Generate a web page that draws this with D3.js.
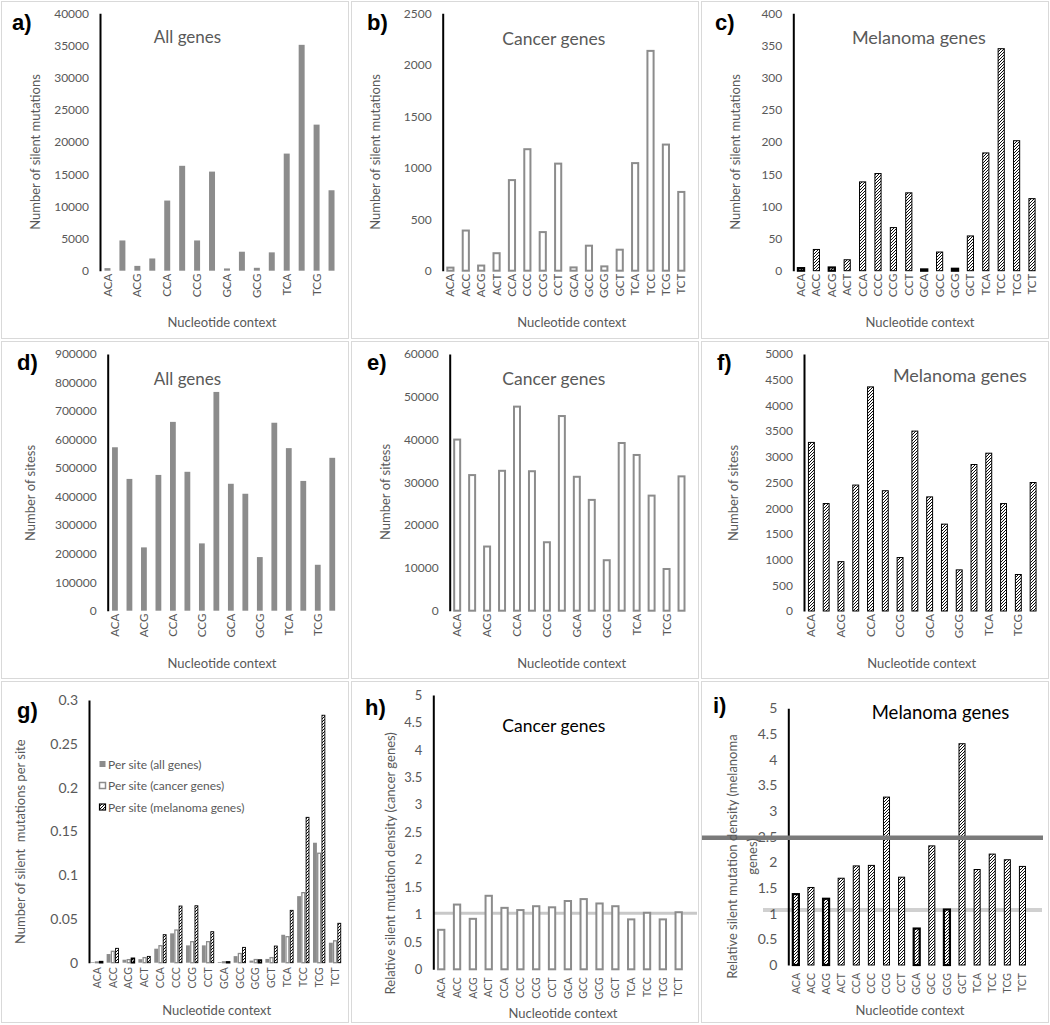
<!DOCTYPE html>
<html><head><meta charset="utf-8">
<script src="https://cdn.jsdelivr.net/npm/d3@7"></script>
<style>body{margin:0;background:#fff} svg{display:block} text{font-family:Lato,"Open Sans",sans-serif}</style>
</head><body><svg id="c" width="1050" height="1025"></svg>
<script>
// ---------------- DATA ----------------
const contexts = ["ACA","ACC","ACG","ACT","CCA","CCC","CCG","CCT","GCA","GCC","GCG","GCT","TCA","TCC","TCG","TCT"];

const silentAll      = [400,4700,750,1900,10900,16300,4700,15400,350,2950,450,2850,18200,35100,22700,12500];
const silentCancer   = [30,390,50,170,880,1180,375,1040,32,243,42,204,1045,2135,1225,765];
const silentMelanoma = [4,33,5,17,138,151,67,121,2,29,3,54,183,345,202,112];

const sitesAll      = [573000,462000,222000,476000,662000,487000,236000,767000,445000,410000,188000,659000,570000,455000,161000,536000];
const sitesCancer   = [40000,31700,15000,32700,47700,32600,16000,45500,31300,25900,11800,39200,36400,26900,9750,31400];
const sitesMelanoma = [3280,2090,960,2450,4360,2340,1040,3500,2220,1690,800,2850,3070,2090,710,2500];

const perSiteAll      = [0.0007,0.0099,0.0034,0.004,0.016,0.0335,0.0198,0.0198,0.0008,0.0075,0.0024,0.0043,0.0319,0.076,0.137,0.0228];
const perSiteCancer   = [0.0008,0.013,0.0035,0.0058,0.0194,0.0373,0.024,0.024,0.001,0.0105,0.0036,0.0058,0.0297,0.08,0.125,0.025];
const perSiteMelanoma = [0.0012,0.0164,0.005,0.0072,0.032,0.0647,0.065,0.0354,0.0009,0.0175,0.003,0.019,0.0598,0.166,0.2826,0.045];
const perSiteSeries   = ["Per site (all genes)","Per site (cancer genes)","Per site (melanoma genes)"];

const relCancer   = [0.72,1.18,0.92,1.34,1.12,1.08,1.15,1.13,1.245,1.28,1.2,1.15,0.91,1.03,0.91,1.04];
const relMelanoma = [1.38,1.51,1.29,1.69,1.93,1.94,3.27,1.71,0.71,2.32,1.08,4.31,1.86,2.16,2.05,1.92];
const refLineCancer   = [1.02];
const refLinesMelanoma = [1.07, 2.48];

const ticksA = ["0","5000","10000","15000","20000","25000","30000","35000","40000"];
const ticksB = ["0","500","1000","1500","2000","2500"];
const ticksC = ["0","50","100","150","200","250","300","350","400"];
const ticksD = ["0","100000","200000","300000","400000","500000","600000","700000","800000","900000"];
const ticksE = ["0","10000","20000","30000","40000","50000","60000"];
const ticksF = ["0","500","1000","1500","2000","2500","3000","3500","4000","4500","5000"];
const ticksG = ["0","0.05","0.1","0.15","0.2","0.25","0.3"];
const ticksHI = ["0","0.5","1","1.5","2","2.5","3","3.5","4","4.5","5"];

// ---------------- STYLE ----------------
const GRAY = "#8c8c8c", TXT = "#595959";
const darkCats = new Set(["ACA","ACG","GCA","GCG"]);
const svg = d3.select("#c");
const defs = svg.append("defs");
const pat = defs.append("pattern").attr("id","hatch").attr("patternUnits","userSpaceOnUse").attr("width",3).attr("height",3);
pat.append("rect").attr("width",3).attr("height",3).attr("fill","#fff");
pat.append("path").attr("d","M-0.75,0.75L0.75,-0.75M0,3L3,0M2.25,3.75L3.75,2.25").attr("stroke","#000").attr("stroke-width",0.95);

[[0,0],[350,0],[700,0],[0,340],[350,340],[700,340],[0,680],[350,680],[700,680]].forEach(([x,y]) =>
  svg.append("rect").attr("x",x+1.5).attr("y",y+1.5).attr("width",347).attr("height",y===680?341:337)
     .attr("fill","none").attr("stroke","#d9d9d9").attr("stroke-width",1));

const panels = [
 {lab:"a)",labPos:[12,30],axisX:100,yTop:13.3,y0:270.7,xEnd:339,ticks:ticksA,vals:silentAll,kind:"solid",skip:true,
  title:"All genes",tPos:[187.5,43],tCol:TXT,tSize:17,yTitle:["Number of silent mutations"],yTPos:[35,152],xTPos:[222,322],tickFs:12,xFs:11.5,xOff:3},
 {lab:"b)",labPos:[367,30],axisX:442.7,yTop:13.3,y0:270.7,xEnd:689,ticks:ticksB,vals:silentCancer,kind:"outline",skip:false,
  title:"Cancer genes",tPos:[553.8,45],tCol:TXT,tSize:17.5,yTitle:["Number of silent mutations"],yTPos:[375,152],xTPos:[571.7,322],tickFs:12,xFs:11.5,xOff:3},
 {lab:"c)",labPos:[715,30],axisX:793.3,yTop:13.3,y0:270.7,xEnd:1039.7,ticks:ticksC,vals:silentMelanoma,kind:"hatch",dark:true,skip:false,
  title:"Melanoma genes",tPos:[918.8,44],tCol:TXT,tSize:18,yTitle:["Number of silent mutations"],yTPos:[735,152],xTPos:[920,322],tickFs:12,xFs:11.5,xOff:3},
 {lab:"d)",labPos:[17,370],axisX:107.7,yTop:354,y0:610.7,xEnd:339.5,ticks:ticksD,vals:sitesAll,kind:"solid",skip:true,
  title:"All genes",tPos:[187.5,385],tCol:TXT,tSize:17,yTitle:["Number of sitess"],yTPos:[30,493],xTPos:[222,662.7],tickFs:12,xFs:11.5,xOff:3},
 {lab:"e)",labPos:[367,370],axisX:449.7,yTop:354,y0:610.7,xEnd:689,ticks:ticksE,vals:sitesCancer,kind:"outline",skip:true,
  title:"Cancer genes",tPos:[553.8,385],tCol:TXT,tSize:17.5,yTitle:["Number of sitess"],yTPos:[385,492],xTPos:[571.7,662.7],tickFs:12,xFs:11.5,xOff:3},
 {lab:"f)",labPos:[717,370],axisX:804,yTop:354,y0:611,xEnd:1040.5,ticks:ticksF,vals:sitesMelanoma,kind:"hatch",skip:true,
  title:"Melanoma genes",tPos:[959.8,381.7],tCol:TXT,tSize:18,yTitle:["Number of sitess"],yTPos:[733,493],xTPos:[921.7,662.7],tickFs:12,xFs:11.5,xOff:3},
 {lab:"g)",labPos:[17,718],axisX:89,yTop:700,y0:962.7,xEnd:343,ticks:ticksG,grouped:[perSiteAll,perSiteCancer,perSiteMelanoma],skip:false,
  title:null,yTitle:["Number of silent  mutations per site"],yTPos:[20,841.7],xTPos:[216.7,1010],tickFs:14,xFs:10.5,xOff:4.5},
 {lab:"h)",labPos:[365,715],axisX:433.3,yTop:695,y0:969.3,xEnd:686.6,ticks:ticksHI,vals:relCancer,kind:"outline",skip:false,
  title:"Cancer genes",tPos:[553.8,731.7],tCol:"#000",tSize:17.5,yTitle:["Relative silent mutation density (cancer genes)"],yTPos:[390,863.3],xTPos:[563,1013],tickFs:13,xFs:10.5,xOff:8,
  linesBehind:refLineCancer.map(v=>({v,x1:433,x2:697,c:"#c8c8c8",w:3}))},
 {lab:"i)",labPos:[713,713],axisX:788.3,yTop:708.3,y0:965,xEnd:1030,ticks:ticksHI,vals:relMelanoma,kind:"hatch",dark:true,skip:false,
  title:"Melanoma genes",tPos:[940.5,719],tCol:"#000",tSize:18.5,yTitle:["Relative silent mutation density (melanoma","genes)"],yTPos:[732.3,856.5],yTGap:20,xTPos:[910,1010],tickFs:14,xFs:10.5,xOff:8,
  linesBehind:[{v:refLinesMelanoma[0],x1:763,x2:1042,c:"#d0d0d0",w:4}],
  linesFront:[{v:refLinesMelanoma[1],x1:702,x2:1043,c:"#7a7a7a",w:4.5}]}
];

function styleBar(sel, P){
  if(P.kind==="solid") sel.attr("fill",GRAY);
  else if(P.kind==="outline") sel.attr("fill","#fff").attr("stroke",GRAY).attr("stroke-width",2);
  else sel.attr("fill","url(#hatch)").attr("stroke","#000").attr("stroke-width",d=>(P.dark&&darkCats.has(d.c))?2.2:1);
}

panels.forEach(P=>{
  const g = svg.append("g");
  const max = +P.ticks[P.ticks.length-1];
  const x = d3.scaleBand().domain(contexts).range([P.axisX,P.xEnd]).paddingInner(0.6).paddingOuter(0.3);
  const y = d3.scaleLinear().domain([0,max]).range([P.y0,P.yTop]);

  (P.linesBehind||[]).forEach(L=>g.append("line").attr("x1",L.x1).attr("x2",L.x2).attr("y1",y(L.v)).attr("y2",y(L.v)).attr("stroke",L.c).attr("stroke-width",L.w));

  if(P.grouped){
    const x0 = d3.scaleBand().domain(contexts).range([P.axisX,P.xEnd]).paddingInner(0.18).paddingOuter(0.09);
    const x1 = d3.scaleBand().domain([0,1,2]).range([0,x0.bandwidth()]).padding(0.08);
    const kinds = ["solid","outline","hatch"];
    P.grouped.forEach((arr,si)=>{
      const d = contexts.map((c,i)=>({c,v:arr[i]}));
      const inset = kinds[si]==="solid"?0:0.5;
      const r = g.append("g").selectAll("rect").data(d).join("rect")
        .attr("x",d=>x0(d.c)+x1(si)+inset).attr("width",x1.bandwidth()-2*inset)
        .attr("y",d=>y(d.v)).attr("height",d=>Math.max(0,P.y0-y(d.v)));
      if(si===0) r.attr("fill",GRAY);
      else if(si===1) r.attr("fill","#fff").attr("stroke",GRAY).attr("stroke-width",1.3);
      else r.attr("fill","url(#hatch)").attr("stroke","#000").attr("stroke-width",d=>darkCats.has(d.c)?1.6:0.9);
    });
    // legend
    const lg = g.append("g").attr("transform","translate(99,0)");
    perSiteSeries.forEach((s,i)=>{
      const cy = 764 + i*21.5;
      const m = lg.append("rect").attr("x",0.5).attr("y",cy-3).attr("width",6).attr("height",6);
      if(i===0) m.attr("fill",GRAY);
      else if(i===1) m.attr("fill","#fff").attr("stroke",GRAY).attr("stroke-width",1.5);
      else m.attr("fill","url(#hatch)").attr("stroke","#000").attr("stroke-width",1.2);
      lg.append("text").attr("x",9).attr("y",cy).attr("dominant-baseline","central").attr("fill",TXT).style("font-size","12px").text(s);
    });
  } else {
    const d = contexts.map((c,i)=>({c,v:P.vals[i]}));
    const r = g.append("g").selectAll("rect").data(d).join("rect")
      .attr("x",d=>x(d.c)).attr("width",x.bandwidth())
      .attr("y",d=>y(d.v)).attr("height",d=>Math.max(0,P.y0-y(d.v)));
    styleBar(r,P);
  }

  // y axis
  const ya = g.append("g").attr("transform",`translate(${P.axisX},0)`)
    .call(d3.axisLeft(y).tickValues(P.ticks.map(Number)).tickFormat((d,i)=>P.ticks[i]).tickSize(0).tickSizeOuter(0).tickPadding(11));
  ya.select(".domain").attr("stroke","#000").attr("stroke-width",2);
  ya.selectAll("text").attr("fill",TXT).style("font-family","Lato").style("font-size",P.tickFs+"px");

  // x axis
  const xa = g.append("g").attr("transform",`translate(0,${P.y0})`)
    .call(d3.axisBottom(x).tickValues(P.skip?contexts.filter((c,i)=>i%2===0):contexts).tickSize(0).tickSizeOuter(0));
  xa.select(".domain").remove();
  xa.selectAll("text").attr("transform","rotate(-90)").attr("x",-P.xOff).attr("y",0).attr("dy","0.35em")
    .style("text-anchor","end").attr("fill",TXT).style("font-family","Lato").style("font-size",P.xFs+"px");

  (P.linesFront||[]).forEach(L=>g.append("line").attr("x1",L.x1).attr("x2",L.x2).attr("y1",y(L.v)).attr("y2",y(L.v)).attr("stroke",L.c).attr("stroke-width",L.w));

  // titles
  if(P.title) g.append("text").attr("x",P.tPos[0]).attr("y",P.tPos[1]).attr("text-anchor","middle")
    .attr("fill",P.tCol).style("font-size",P.tSize+"px").text(P.title);
  g.append("text").attr("x",P.labPos[0]).attr("y",P.labPos[1]).style("font-family","'Liberation Sans',Arial,sans-serif")
    .style("font-weight","bold").style("font-size","22px").attr("fill","#000").text(P.lab);
  P.yTitle.forEach((t,i)=>{
    const cx = P.yTPos[0] + i*(P.yTGap||0);
    g.append("text").attr("transform",`translate(${cx},${P.yTPos[1]}) rotate(-90)`).attr("text-anchor","middle")
      .attr("dominant-baseline","central").attr("fill",TXT).style("font-size","13px").style("white-space","pre").text(t);
  });
  g.append("text").attr("x",P.xTPos[0]).attr("y",P.xTPos[1]).attr("text-anchor","middle").attr("dominant-baseline","central")
    .attr("fill",TXT).style("font-size","13px").text("Nucleotide context");
});
</script></body></html>
